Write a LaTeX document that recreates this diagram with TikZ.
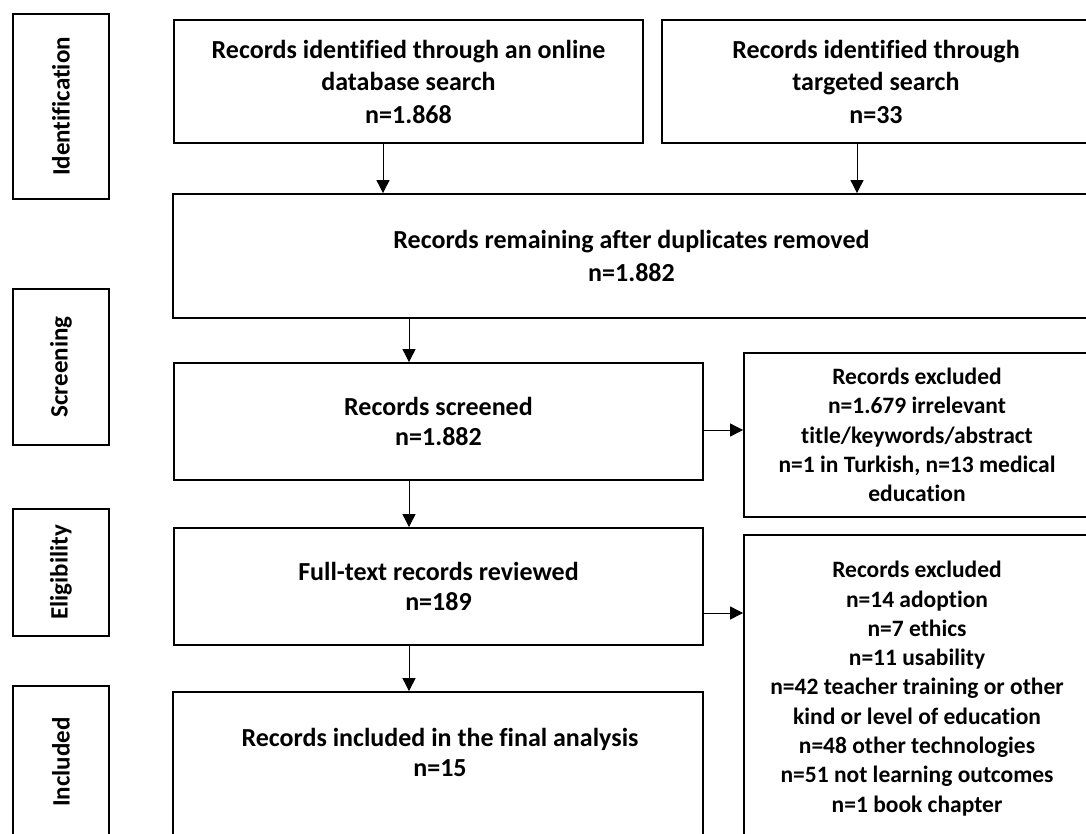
\documentclass[tikz,border=0pt]{standalone}
\usepackage{fontspec}
\setmainfont{Carlito}[Ligatures=NoCommon]
\usetikzlibrary{arrows.meta}
\tikzset{
  box/.style={draw=black, line width=1.8pt, inner sep=0pt, align=center, font=\fontsize{26}{32.5}\selectfont\bfseries},
  stepbox/.style={box, font=\fontsize{26}{30}\selectfont\bfseries},
  exbox/.style={box, font=\fontsize{23.5}{29.3}\selectfont\bfseries},
  phase/.style={draw=black, line width=1.8pt, inner sep=0pt, rotate=90, minimum height=96pt, font=\fontsize{25}{30}\selectfont\bfseries},
  txt/.style={inner sep=0pt, align=center, font=\fontsize{26}{30}\selectfont\bfseries},
  flow/.style={-{Triangle[length=13pt,width=13pt]}, line width=0.9pt},
}
\begin{document}
\begin{tikzpicture}[x=1pt,y=-1pt]
  \clip (0,0) rectangle (1086,834);
  \node[phase, minimum width=185pt] (ident) at (61,106.5) {Identification};
  \node[phase, minimum width=156pt] (screen) at (61,367) {Screening};
  \node[phase, minimum width=127pt] (elig) at (61,572.5) {Eligibility};
  \node[phase, minimum width=152pt] (incl) at (61,762) {Included};
  \node[box, minimum width=469pt, minimum height=123pt] (db) at (408.5,81.5) {Records identified through an online\\database search\\n=1.868};
  \node[box, minimum width=428pt, minimum height=123pt] (tgt) at (876,81.5) {Records identified through\\targeted search\\n=33};
  \node[box, minimum width=917pt, minimum height=124pt] (dup) at (631.5,256) {Records remaining after duplicates removed\\n=1.882};
  \node[stepbox, minimum width=529pt, minimum height=117pt] (scr) at (438.5,421.5) {Records screened\\n=1.882};
  \node[stepbox, minimum width=529pt, minimum height=117pt] (full) at (438.5,586.5) {Full-text records reviewed\\n=189};
  \node[box, minimum width=530pt, minimum height=158pt] (final) at (438,771) {};
  \node[txt] (finaltxt) at (440,752) {Records included in the final analysis\\n=15};
  \node[exbox, minimum width=346pt, minimum height=164pt] (ex1) at (917,435) {Records excluded\\n=1.679 irrelevant\\title/keywords/abstract\\n=1 in Turkish, n=13 medical\\education};
  \node[exbox, minimum width=346pt, minimum height=307pt] (ex2) at (917,688.5) {Records excluded\\n=14 adoption\\n=7 ethics\\n=11 usability\\n=42 teacher training or other\\kind or level of education\\n=48 other technologies\\n=51 not learning outcomes\\n=1 book chapter};
  \draw[flow] (db.south -| 383,0) -- (dup.north -| 383,0);
  \draw[flow] (tgt.south -| 857,0) -- (dup.north -| 857,0);
  \draw[flow] (dup.south -| 409,0) -- (scr.north -| 409,0);
  \draw[flow] (scr.south -| 409,0) -- (full.north -| 409,0);
  \draw[flow] (full.south -| 409,0) -- (final.north -| 409,0);
  \draw[flow] (scr.east |- 0,430) -- (ex1.west |- 0,430);
  \draw[flow] (full.east |- 0,613) -- (ex2.west |- 0,613);
\end{tikzpicture}
\end{document}
